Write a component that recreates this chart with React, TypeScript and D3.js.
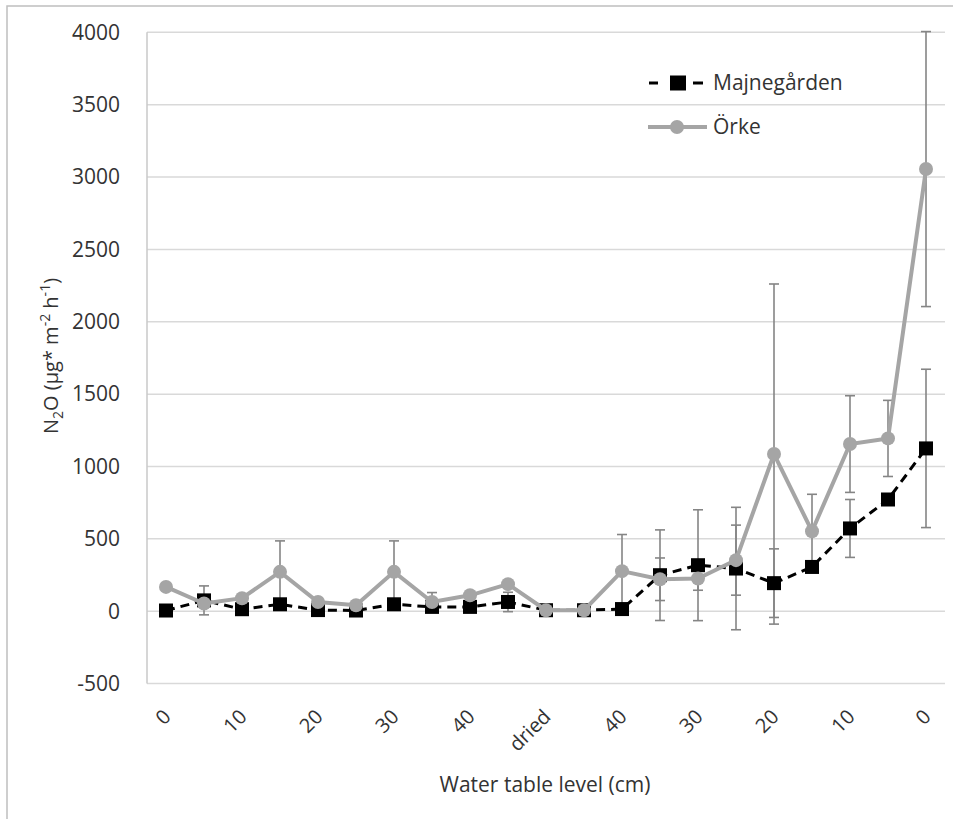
import React from 'react';
import * as d3 from 'd3';

const width = 953;
const height = 819;
const margin = {
  top: 32.3, right: 8, bottom: 135.4, left: 147,
};

// x axis: 21 sampling occasions, Excel shows every second label
const tickLabels = ['0', '10', '20', '30', '40', 'dried', '40', '30', '20', '10', '0'];
const yTicks = [-500, 0, 500, 1000, 1500, 2000, 2500, 3000, 3500, 4000];

const majneValues = [5, 75, 14, 48, 8, 5, 48, 30, 30, 64, 7, 7, 15, 249, 318, 295, 194, 306, 572, 772, 1125];
const majneErrors = [0, 100, 0, 0, 0, 0, 0, 0, 0, 67, 0, 0, 0, 313, 383, 423, 237, 0, 200, 0, 547];
const orkeValues = [168, 53, 90, 272, 64, 41, 272, 64, 110, 187, 7, 7, 277, 221, 226, 353, 1086, 553, 1155, 1194, 3055];
const orkeErrors = [0, 0, 0, 214, 0, 0, 214, 65, 0, 0, 0, 0, 253, 147, 81, 242, 1175, 255, 334, 263, 950];

const font = '"Open Sans", sans-serif';
const textColor = '#333';
const gridColor = '#d9d9d9';
const errColor = '#858585';
const orkeColor = '#a5a5a5';

const App = () => {
  const xScale = d3.scaleBand()
    .domain(d3.range(majneValues.length).map(String))
    .range([margin.left, width - margin.right])
    .padding(0);
  const bw = xScale.bandwidth();
  const cx = i => xScale(String(i)) + bw / 2;

  const yScale = d3.scaleLinear()
    .domain([-500, 4000])
    .range([height - margin.bottom, margin.top]);

  const majneLine = d3.line()
    .x((d, i) => cx(i))
    .y(d => yScale(d));
  const orkeLine = d3.line()
    .x((d, i) => cx(i))
    .y(d => yScale(d));

  const errorBars = (values, errors, key) => values.map((v, i) => {
    if (!errors[i]) return null;
    const x = cx(i);
    const y1 = yScale(v + errors[i]);
    const y2 = yScale(v - errors[i]);
    return (
      <g key={`${key}${i}`} stroke={errColor} strokeWidth={1.6}>
        <line x1={x} x2={x} y1={y1} y2={y2} />
        <line x1={x - 5} x2={x + 5} y1={y1} y2={y1} />
        <line x1={x - 5} x2={x + 5} y1={y2} y2={y2} />
      </g>
    );
  });

  return (
    <svg
      width={width}
      height={height}
      style={{ position: 'absolute', left: 0, top: 0, background: '#fff' }}
      fontFamily={font}
    >
      <rect x={7} y={6} width={960} height={830} fill="#fff" stroke="#bfbfbf" strokeWidth={1.5} />

      {/* grid */}
      {yTicks.map(t => (
        <line
          key={t}
          x1={margin.left}
          x2={width - margin.right}
          y1={yScale(t)}
          y2={yScale(t)}
          stroke={gridColor}
          strokeWidth={1.5}
        />
      ))}
      <line
        x1={margin.left}
        x2={margin.left}
        y1={yScale(4000)}
        y2={yScale(-500)}
        stroke="#c8c8c8"
        strokeWidth={1.5}
      />

      {/* y tick labels */}
      {yTicks.map(t => (
        <text
          key={t}
          x={120}
          y={yScale(t)}
          dy="0.35em"
          textAnchor="end"
          fontSize={21}
          fill={textColor}
        >
          {t}
        </text>
      ))}

      {/* x tick labels */}
      {tickLabels.map((lab, k) => {
        const x = cx(k * 2) + 6;
        const y = 718;
        return (
          <text
            key={k}
            x={x}
            y={y}
            textAnchor="end"
            fontSize={20}
            fill={textColor}
            transform={`rotate(-45, ${x}, ${y})`}
          >
            {lab}
          </text>
        );
      })}

      {/* axis titles */}
      <text x={545} y={792} textAnchor="middle" fontSize={21} fill={textColor}>
        Water table level (cm)
      </text>
      <text
        transform="translate(58, 356) rotate(-90)"
        textAnchor="middle"
        fontSize={20}
        fill={textColor}
      >
        N
        <tspan fontSize={14} dy={5}>2</tspan>
        <tspan dy={-5}>O (µg* m</tspan>
        <tspan fontSize={14} dy={-8}>-2</tspan>
        <tspan dy={8}> h</tspan>
        <tspan fontSize={14} dy={-8}>-1</tspan>
        <tspan dy={8}>)</tspan>
      </text>

      {/* error bars */}
      {errorBars(majneValues, majneErrors, 'm')}
      {errorBars(orkeValues, orkeErrors, 'o')}

      {/* Majnegården */}
      <path
        d={majneLine(majneValues)}
        fill="none"
        stroke="#000"
        strokeWidth={3}
        strokeDasharray="9,6"
      />
      {majneValues.map((v, i) => (
        <rect key={i} x={cx(i) - 7} y={yScale(v) - 7} width={14} height={14} fill="#000" />
      ))}

      {/* Örke */}
      <path d={orkeLine(orkeValues)} fill="none" stroke={orkeColor} strokeWidth={4} />
      {orkeValues.map((v, i) => (
        <circle key={i} cx={cx(i)} cy={yScale(v)} r={7} fill={orkeColor} />
      ))}

      {/* legend */}
      <g>
        <line x1={649} x2={658} y1={83} y2={83} stroke="#000" strokeWidth={3} />
        <line x1={693} x2={703} y1={83} y2={83} stroke="#000" strokeWidth={3} />
        <rect x={670} y={75.5} width={16} height={15} fill="#000" />
        <text x={713} y={83} dy="0.35em" fontSize={21} fill={textColor}>Majnegården</text>
        <line x1={648} x2={707} y1={127} y2={127} stroke={orkeColor} strokeWidth={4} />
        <circle cx={677} cy={127} r={7} fill={orkeColor} />
        <text x={713} y={127} dy="0.35em" fontSize={21} fill={textColor}>Örke</text>
      </g>
    </svg>
  );
};

export default App;
